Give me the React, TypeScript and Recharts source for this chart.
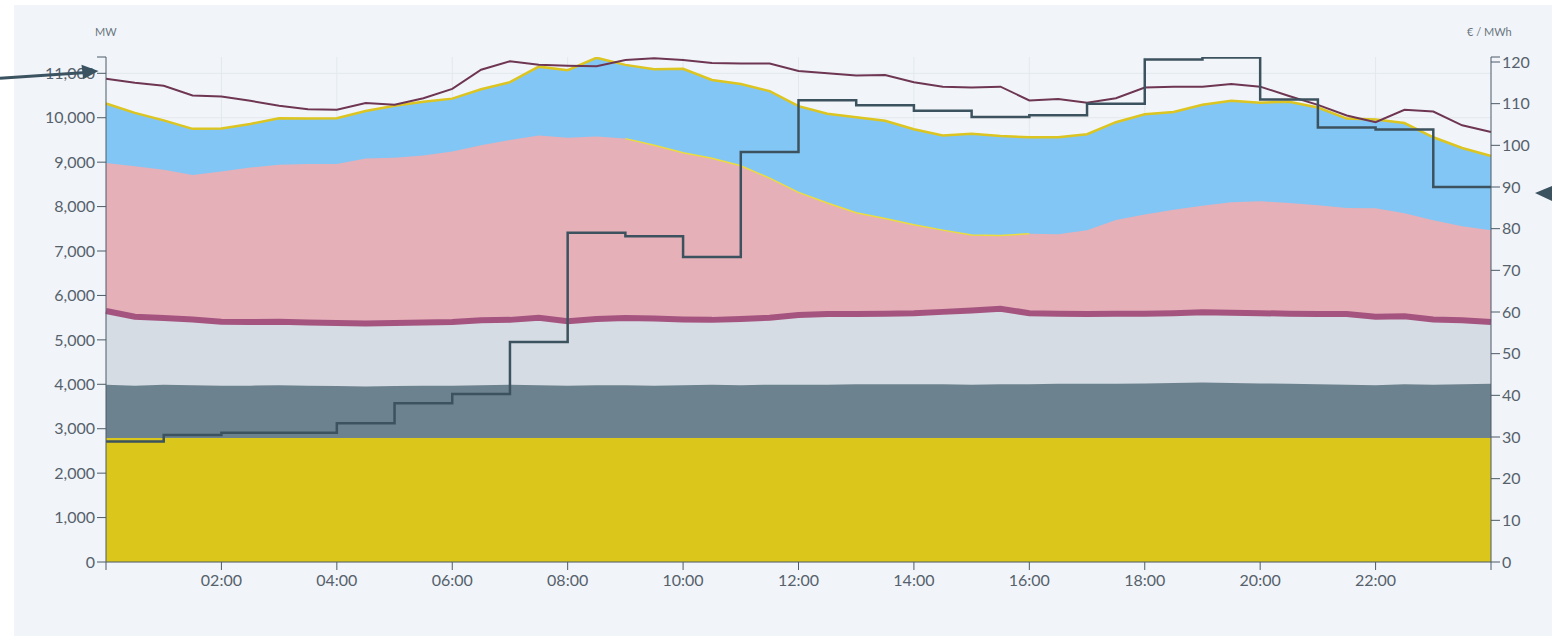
import React from 'react';
import { ComposedChart, Area, Line, XAxis, YAxis, CartesianGrid } from 'recharts';

// time of day in hours, every 30 minutes
const timeHours = [
  0, 0.5, 1, 1.5, 2, 2.5, 3, 3.5, 4, 4.5, 5, 5.5, 6, 6.5, 7, 7.5, 8, 8.5, 9, 9.5,
  10, 10.5, 11, 11.5, 12, 12.5, 13, 13.5, 14, 14.5, 15, 15.5, 16, 16.5, 17, 17.5,
  18, 18.5, 19, 19.5, 20, 20.5, 21, 21.5, 22, 22.5, 23, 23.5, 24,
];

// cumulative tops of the stacked layers (MW)
const baseTopMW = [
  2790, 2790, 2790, 2790, 2790, 2790, 2790, 2790, 2790, 2790, 2790, 2790, 2790, 2790, 2790, 2790, 2790, 2790, 2790, 2790,
  2790, 2790, 2790, 2790, 2790, 2790, 2790, 2790, 2790, 2790, 2790, 2790, 2790, 2790, 2790, 2790,
  2790, 2790, 2790, 2790, 2790, 2790, 2790, 2790, 2790, 2790, 2790, 2790, 2790,
];
const slateTopMW = [
  3990, 3970, 3990, 3980, 3970, 3970, 3980, 3970, 3960, 3950, 3960, 3970, 3970, 3980, 3990, 3980, 3970, 3980, 3980, 3970,
  3980, 3990, 3980, 3990, 3990, 3990, 4000, 4000, 4000, 4000, 3990, 4000, 4000, 4010, 4010, 4010,
  4020, 4030, 4040, 4030, 4020, 4010, 4000, 3990, 3980, 4000, 3990, 4000, 4010,
];
const grayTopMW = [
  5650, 5520, 5490, 5460, 5410, 5400, 5410, 5390, 5380, 5370, 5380, 5390, 5400, 5440, 5450, 5500, 5420, 5470, 5490, 5480,
  5460, 5450, 5470, 5500, 5560, 5580, 5580, 5590, 5600, 5630, 5660, 5700, 5600, 5590, 5580, 5590,
  5590, 5600, 5620, 5610, 5600, 5590, 5580, 5580, 5520, 5530, 5460, 5440, 5400,
];
const pinkTopMW = [
  8980, 8910, 8830, 8710, 8790, 8880, 8940, 8960, 8960, 9080, 9100, 9150, 9240, 9380, 9500, 9600, 9550, 9580, 9530, 9380,
  9210, 9090, 8920, 8640, 8320, 8080, 7860, 7730, 7590, 7470, 7360, 7350, 7390, 7380, 7470, 7700,
  7820, 7930, 8020, 8100, 8120, 8080, 8030, 7970, 7960, 7850, 7690, 7560, 7470,
];
const totalTopMW = [
  10320, 10110, 9940, 9750, 9760, 9860, 9990, 9980, 9990, 10150, 10270, 10360, 10430, 10640, 10800, 11150, 11070, 11350, 11190, 11090,
  11100, 10850, 10760, 10600, 10260, 10090, 10010, 9930, 9740, 9600, 9640, 9590, 9560, 9560, 9630, 9900,
  10080, 10130, 10290, 10380, 10340, 10360, 10230, 9980, 9960, 9880, 9560, 9320, 9140,
];
const loadMW = [
  10880, 10790, 10720, 10500, 10480, 10380, 10270, 10190, 10180, 10330, 10290, 10440, 10650, 11080, 11270, 11190, 11170, 11160, 11300, 11340,
  11300, 11230, 11220, 11220, 11050, 11000, 10950, 10960, 10800, 10700, 10680, 10700, 10390, 10420, 10340, 10440,
  10680, 10700, 10700, 10760, 10700, 10490, 10290, 10050, 9900, 10180, 10140, 9830, 9680,
];
// hourly price (€/MWh), hour 0 .. 23
const priceHourly = [
  28.9, 30.5, 31.0, 31.0, 33.3, 38.1, 40.3, 52.8, 79.0, 78.2, 73.2, 98.4,
  110.8, 109.6, 108.3, 106.8, 107.2, 110.0, 120.6, 121.1, 111.0, 104.3, 103.8, 90.0,
];
// the pink layer's edge is highlighted between these hours
const highlightFromHour = 9;
const highlightToHour = 16;

const xTicks = [0, 2, 4, 6, 8, 10, 12, 14, 16, 18, 20, 22, 24];
const leftTicks = [0, 1000, 2000, 3000, 4000, 5000, 6000, 7000, 8000, 9000, 10000, 11000];
const rightTicks = [0, 10, 20, 30, 40, 50, 60, 70, 80, 90, 100, 110, 120];
const LEFT_MAX = 11367;
const RIGHT_MAX = 121.2;

const rows = timeHours.map((h, i) => ({
  h,
  base: baseTopMW[i],
  slate: slateTopMW[i],
  gray: grayTopMW[i],
  pink: pinkTopMW[i],
  pinkEdge: h >= highlightFromHour && h <= highlightToHour ? pinkTopMW[i] : null,
  total: totalTopMW[i],
  load: loadMW[i],
  price: priceHourly[Math.min(23, Math.floor(h))],
}));

const FONT = 'Lato, "Open Sans", sans-serif';
const LABEL = '#56616c';
const AXIS = '#4c5b67';

const fmtThousands = (v: number) => String(v).replace(/\B(?=(\d{3})+(?!\d))/g, ',');

const LeftTick = (p: any) => {
  const v = p.payload.value;
  if (v > 11000) return <g />;
  return (
    <text x={p.x} y={p.y} dy="0.36em" textAnchor="end" fill={LABEL} fontSize={16} fontFamily={FONT}>
      {fmtThousands(v)}
    </text>
  );
};
const RightTick = (p: any) => {
  const v = p.payload.value;
  if (v > 120) return <g />;
  return (
    <text x={p.x} y={p.y} dy="0.36em" textAnchor="start" fill={LABEL} fontSize={16} fontFamily={FONT}>
      {v}
    </text>
  );
};
const XTick = (p: any) => {
  const v = p.payload.value;
  if (v === 0 || v === 24) return <g />;
  return (
    <text x={p.x} y={p.y + 14} textAnchor="middle" fill={LABEL} fontSize={16} fontFamily={FONT}>
      {`${String(v).padStart(2, '0')}:00`}
    </text>
  );
};

export default function App() {
  return (
    <div>
      <div
        style={{
          position: 'absolute', left: 14, top: 5, width: 1538, height: 631, background: '#f1f5f9',
        }}
      />
      <div style={{ position: 'absolute', left: 0, top: 0 }}>
        <ComposedChart
          width={1552}
          height={636}
          data={rows}
          margin={{ top: 57, right: 11, bottom: 44, left: 46 }}
        >
          <CartesianGrid stroke="#e3e8ed" strokeWidth={1} yAxisId="left"
            horizontalValues={leftTicks} verticalValues={xTicks.slice(1, -1)} />
          <XAxis
            dataKey="h"
            type="number"
            domain={[0, 24]}
            ticks={xTicks}
            tick={<XTick />}
            tickSize={8}
            stroke={AXIS}
            axisLine={{ stroke: AXIS }}
            tickLine={{ stroke: AXIS }}
            interval={0}
          />
          <YAxis
            yAxisId="left"
            orientation="left"
            domain={[0, LEFT_MAX]}
            ticks={[...leftTicks, LEFT_MAX]}
            tick={<LeftTick />}
            tickSize={9}
            width={60}
            allowDataOverflow
            axisLine={{ stroke: AXIS }}
            tickLine={{ stroke: AXIS }}
            interval={0}
          />
          <YAxis
            yAxisId="right"
            orientation="right"
            domain={[0, RIGHT_MAX]}
            ticks={[...rightTicks, RIGHT_MAX]}
            tick={<RightTick />}
            tickSize={9}
            width={50}
            allowDataOverflow
            axisLine={{ stroke: AXIS }}
            tickLine={{ stroke: AXIS }}
            interval={0}
          />
          <Area yAxisId="left" dataKey="total" type="linear" fill="#82c6f5" fillOpacity={1}
            stroke="#dcc520" strokeWidth={2.5} isAnimationActive={false} dot={false} activeDot={false} />
          <Area yAxisId="left" dataKey="pink" type="linear" fill="#e5b0b8" fillOpacity={1}
            stroke="none" isAnimationActive={false} dot={false} activeDot={false} />
          <Line yAxisId="left" dataKey="pinkEdge" type="linear" stroke="#ecdc3c" strokeWidth={1.5}
            dot={false} activeDot={false} isAnimationActive={false} connectNulls={false} />
          <Area yAxisId="left" dataKey="gray" type="linear" fill="#d5dce3" fillOpacity={1}
            stroke="#a5547f" strokeWidth={6} isAnimationActive={false} dot={false} activeDot={false} />
          <Area yAxisId="left" dataKey="slate" type="linear" fill="#6d828f" fillOpacity={1}
            stroke="none" isAnimationActive={false} dot={false} activeDot={false} />
          <Area yAxisId="left" dataKey="base" type="linear" fill="#dbc71b" fillOpacity={1}
            stroke="none" isAnimationActive={false} dot={false} activeDot={false} />
          <Line yAxisId="left" dataKey="load" type="linear" stroke="#6e3652" strokeWidth={2}
            dot={false} activeDot={false} isAnimationActive={false} />
          <Line yAxisId="right" dataKey="price" type="stepAfter" stroke="#3c525e" strokeWidth={2.5}
            dot={false} activeDot={false} isAnimationActive={false} />
        </ComposedChart>
      </div>
      <svg
        width={1552}
        height={636}
        style={{ position: 'absolute', left: 0, top: 0, pointerEvents: 'none' }}
      >
        <text x={95} y={36} fontSize={11} fill="#6a7580" fontFamily={FONT}>MW</text>
        <text x={1467} y={36} fontSize={11} fill="#6a7580" fontFamily={FONT}>€ / MWh</text>
        <line x1={0} y1={78.3} x2={86} y2={72.4} stroke="#3b5260" strokeWidth={3} />
        <polygon points="98.5,71 81.5,64.8 83.2,79.3" fill="#3b5260" />
        <polygon points="1535,193 1553,185.5 1553,201.5" fill="#3b5260" />
      </svg>
    </div>
  );
}
